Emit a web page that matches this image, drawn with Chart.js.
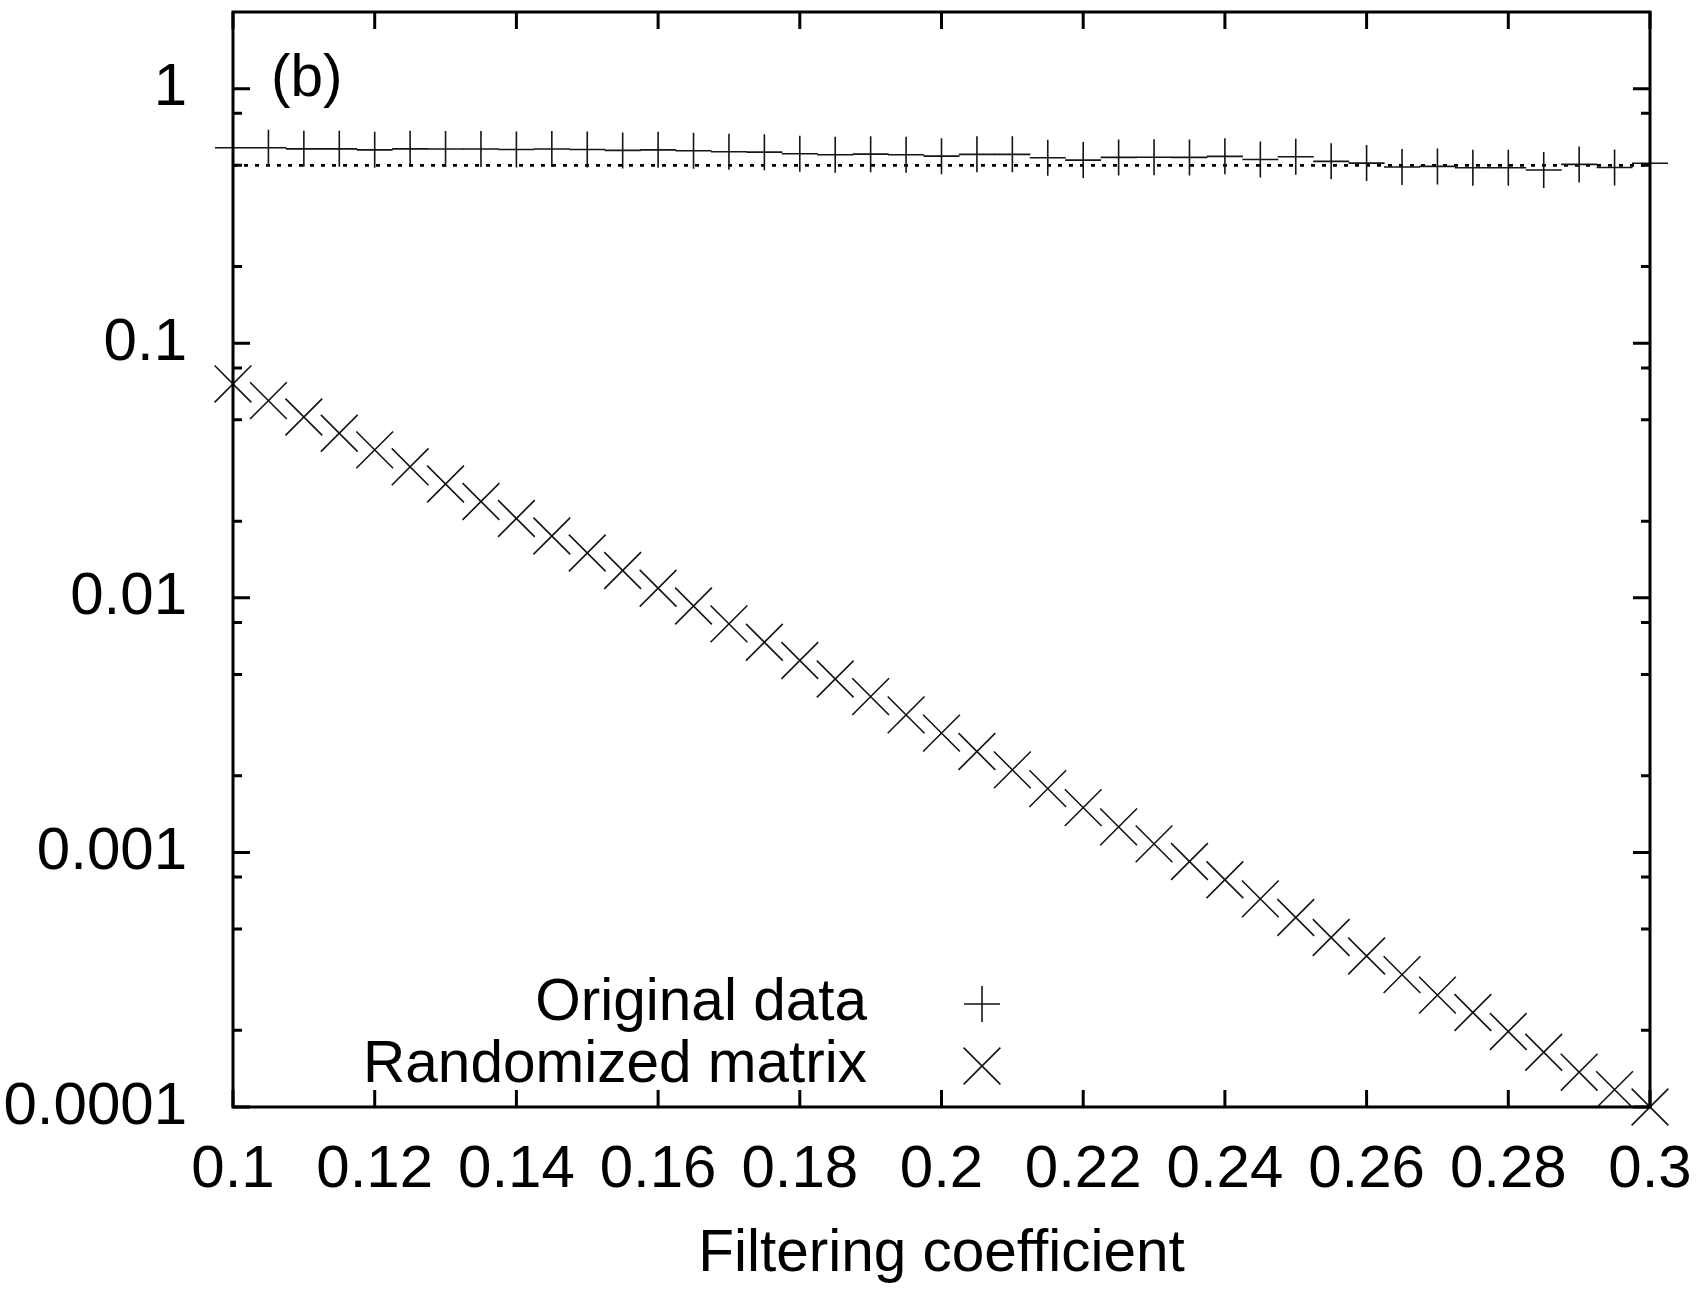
<!DOCTYPE html>
<html>
<head>
<meta charset="utf-8">
<script src="https://cdn.jsdelivr.net/npm/chart.js@4.4.1/dist/chart.umd.min.js"></script>
<style>
  html, body { margin: 0; padding: 0; background: #ffffff; }
  #wrap { width: 1705px; height: 1290px; position: relative; }
</style>
</head>
<body>
<div id="wrap"><canvas id="c" width="1705" height="1290"></canvas></div>
<script>
// Filtering coefficient values at which both series were evaluated
const filtering = [
  0.100, 0.105, 0.110, 0.115, 0.120, 0.125, 0.130, 0.135, 0.140, 0.145,
  0.150, 0.155, 0.160, 0.165, 0.170, 0.175, 0.180, 0.185, 0.190, 0.195,
  0.200, 0.205, 0.210, 0.215, 0.220, 0.225, 0.230, 0.235, 0.240, 0.245,
  0.250, 0.255, 0.260, 0.265, 0.270, 0.275, 0.280, 0.285, 0.290, 0.295,
  0.300
];

// Original data (+ markers)
const originalData = [
  0.586, 0.586, 0.580, 0.580, 0.575, 0.580, 0.579, 0.579, 0.577, 0.579,
  0.577, 0.572, 0.575, 0.570, 0.565, 0.563, 0.555, 0.550, 0.553, 0.550,
  0.543, 0.552, 0.552, 0.535, 0.524, 0.537, 0.538, 0.537, 0.542, 0.527,
  0.540, 0.518, 0.510, 0.492, 0.495, 0.489, 0.489, 0.479, 0.504, 0.490,
  0.509
];

// Randomized matrix (x markers)
const randomizedMatrix = [
  0.0692, 0.0595, 0.0513, 0.0443, 0.0381, 0.0327, 0.0280, 0.0239, 0.0205, 0.0175,
  0.0150, 0.0128, 0.0109, 0.00929, 0.00790, 0.00669, 0.00567, 0.00480, 0.00409, 0.00347,
  0.00294, 0.00249, 0.00211, 0.00178, 0.00150, 0.00126, 0.00108, 0.000921, 0.000781, 0.000657,
  0.000555, 0.000463, 0.000392, 0.000331, 0.000275, 0.000235, 0.000198, 0.000164, 0.000137, 0.000117,
  0.000100
];

// Horizontal reference level (dotted line)
const referenceLevel = 0.5;

// Axis ticks and labels
const xTickValues = [0.10, 0.12, 0.14, 0.16, 0.18, 0.20, 0.22, 0.24, 0.26, 0.28, 0.30];
const xTickLabels = ['0.1', '0.12', '0.14', '0.16', '0.18', '0.2', '0.22', '0.24', '0.26', '0.28', '0.3'];
const yTickValues = [0.0001, 0.001, 0.01, 0.1, 1];
const yTickLabels = ['0.0001', '0.001', '0.01', '0.1', '1'];
const yMinorTicks = [0.0002, 0.0005, 0.0008, 0.002, 0.005, 0.008, 0.02, 0.05, 0.08, 0.2, 0.5, 0.8];

const xTitle = 'Filtering coefficient';
const panelLabel = '(b)';
const seriesNames = ['Original data', 'Randomized matrix'];

const FONT_FAMILY = '"Liberation Sans", Arial, Helvetica, sans-serif';
const TICK_SIZE = 60;
const TEXT_SIZE = 58.5;
const INK = '#000000';
const MARK = '#151515';

const pairs = (xs, ys) => xs.map((x, i) => ({ x: x, y: ys[i] }));

// Frame with inward ticks on all four sides, panel label and key
const framePlugin = {
  id: 'frame',
  afterDatasetsDraw(chart) {
    const { ctx, chartArea: a, scales } = chart;
    const xs = scales.x, ys = scales.y;
    const major = 17, minor = 9;
    ctx.save();
    ctx.strokeStyle = INK;
    ctx.lineWidth = 3;
    ctx.lineCap = 'butt';
    ctx.strokeRect(a.left, a.top, a.right - a.left, a.bottom - a.top);

    ctx.beginPath();
    xTickValues.forEach(v => {
      const px = xs.getPixelForValue(v);
      ctx.moveTo(px, a.bottom); ctx.lineTo(px, a.bottom - major);
      ctx.moveTo(px, a.top); ctx.lineTo(px, a.top + major);
    });
    yTickValues.forEach(v => {
      const py = ys.getPixelForValue(v);
      ctx.moveTo(a.left, py); ctx.lineTo(a.left + major, py);
      ctx.moveTo(a.right, py); ctx.lineTo(a.right - major, py);
    });
    yMinorTicks.forEach(v => {
      const py = ys.getPixelForValue(v);
      ctx.moveTo(a.left, py); ctx.lineTo(a.left + minor, py);
      ctx.moveTo(a.right, py); ctx.lineTo(a.right - minor, py);
    });
    ctx.stroke();

    // panel label
    ctx.fillStyle = INK;
    ctx.font = TEXT_SIZE + 'px ' + FONT_FAMILY;
    ctx.textAlign = 'left';
    ctx.textBaseline = 'middle';
    ctx.fillText(panelLabel, 271, 80);

    // key
    const keyTextRight = 867, keyMarkX = 982;
    const rows = [1004, 1066];
    ctx.textAlign = 'right';
    const styles = [
      { pointStyle: 'cross', radius: 18, borderWidth: 1.6 },
      { pointStyle: 'crossRot', radius: 26, borderWidth: 1.6 }
    ];
    rows.forEach((y, i) => {
      ctx.fillStyle = INK;
      ctx.fillText(seriesNames[i], keyTextRight, y);
      ctx.strokeStyle = MARK;
      ctx.lineWidth = 1.6;
      Chart.helpers.drawPoint(ctx, styles[i], keyMarkX, y);
    });
    ctx.restore();
  }
};

const tickFont = { family: FONT_FAMILY, size: TICK_SIZE };
const titleFont = { family: FONT_FAMILY, size: TEXT_SIZE };

new Chart(document.getElementById('c').getContext('2d'), {
  type: 'scatter',
  data: {
    datasets: [
      {
        label: seriesNames[0],
        data: pairs(filtering, originalData),
        pointStyle: 'cross',
        pointRadius: 18,
        pointBorderWidth: 1.6,
        borderColor: MARK,
        backgroundColor: MARK,
        showLine: false,
        clip: false
      },
      {
        label: seriesNames[1],
        data: pairs(filtering, randomizedMatrix),
        pointStyle: 'crossRot',
        pointRadius: 26,
        pointBorderWidth: 1.6,
        borderColor: MARK,
        backgroundColor: MARK,
        showLine: false,
        clip: false
      },
      {
        label: 'level',
        type: 'line',
        data: [{ x: filtering[0], y: referenceLevel }, { x: filtering[filtering.length - 1], y: referenceLevel }],
        borderColor: INK,
        borderWidth: 2.8,
        borderDash: [4, 7],
        pointRadius: 0,
        fill: false
      }
    ]
  },
  options: {
    responsive: false,
    animation: false,
    devicePixelRatio: 1,
    layout: { autoPadding: false, padding: { left: 0, right: 55, top: 12, bottom: 0 } },
    plugins: { legend: { display: false }, tooltip: { enabled: false } },
    scales: {
      x: {
        type: 'linear',
        min: 0.1,
        max: 0.3,
        afterBuildTicks: s => { s.ticks = xTickValues.map(v => ({ value: v })); },
        afterFit: s => { s.height = 183; s.paddingLeft = 0; s.paddingRight = 0; },
        grid: { display: false, drawTicks: false },
        border: { display: false },
        ticks: {
          font: tickFont, color: INK, padding: 27, maxRotation: 0, autoSkip: false,
          callback: (v, i) => xTickLabels[i]
        },
        title: {
          display: true, text: xTitle, font: titleFont, color: INK,
          padding: { top: 0, bottom: 0 }
        }
      },
      y: {
        type: 'logarithmic',
        min: 0.0001,
        max: 2,
        afterBuildTicks: s => { s.ticks = yTickValues.map(v => ({ value: v })); },
        afterFit: s => { s.width = 233; s.paddingTop = 0; s.paddingBottom = 0; },
        grid: { display: false, drawTicks: false },
        border: { display: false },
        ticks: {
          font: tickFont, color: INK, padding: 46, autoSkip: false,
          callback: (v, i) => yTickLabels[i]
        }
      }
    }
  },
  plugins: [framePlugin]
});
</script>
</body>
</html>
